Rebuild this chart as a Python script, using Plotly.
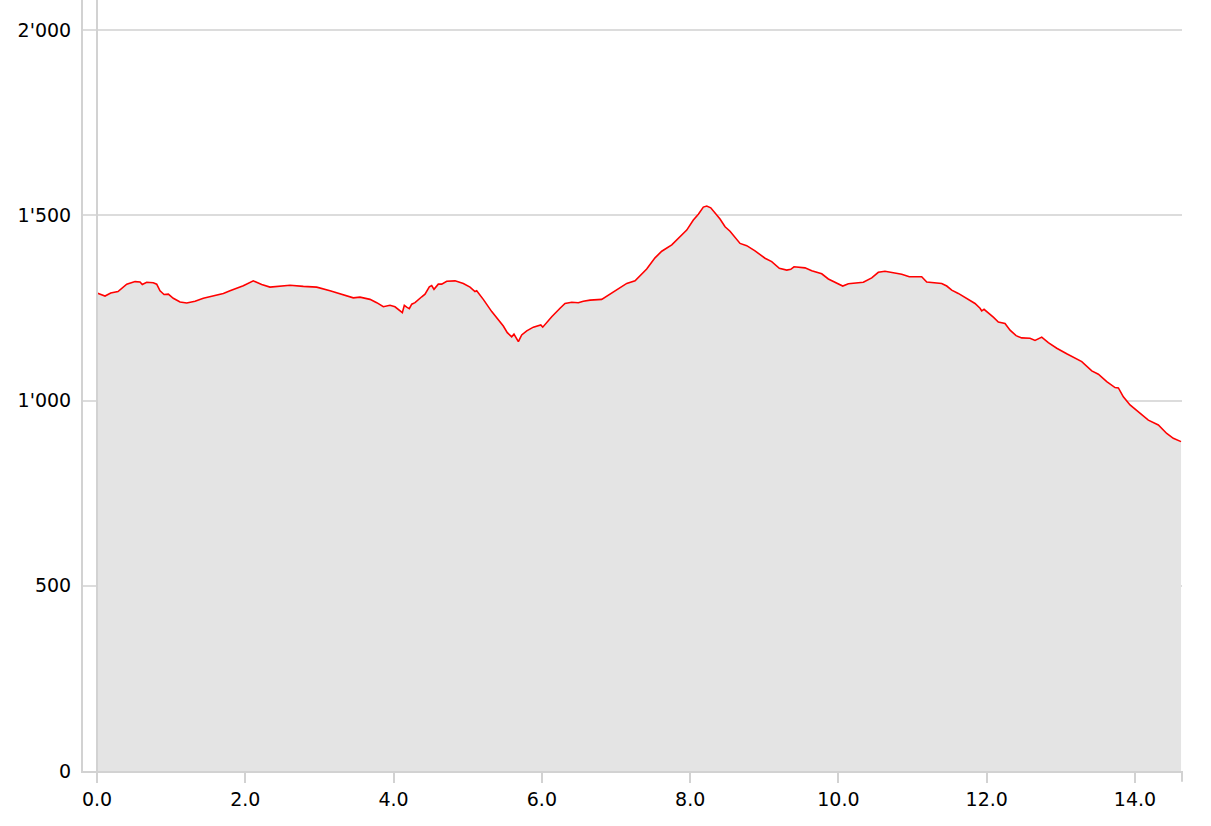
import plotly.graph_objects as go

# elevation profile: distance (km) vs elevation (m)
dist_km = [0.0, 0.108, 0.185, 0.283, 0.401, 0.513, 0.58, 0.611, 0.67, 0.759, 0.805, 0.85,
           0.904, 0.962, 1.029, 1.12, 1.21, 1.322, 1.434, 1.569, 1.704, 1.794, 1.973, 2.108,
           2.221, 2.333, 2.603, 2.783, 2.963, 3.143, 3.322, 3.457, 3.547, 3.638, 3.682, 3.773,
           3.862, 3.952, 4.019, 4.118, 4.145, 4.177, 4.212, 4.245, 4.289, 4.38, 4.424, 4.482,
           4.514, 4.545, 4.603, 4.649, 4.717, 4.829, 4.941, 5.031, 5.098, 5.121, 5.21, 5.324,
           5.413, 5.48, 5.534, 5.593, 5.624, 5.647, 5.683, 5.728, 5.796, 5.885, 5.952, 5.985,
           6.012, 6.043, 6.133, 6.245, 6.312, 6.403, 6.492, 6.559, 6.65, 6.807, 6.919, 7.054,
           7.145, 7.257, 7.324, 7.414, 7.526, 7.617, 7.752, 7.864, 7.954, 8.043, 8.111, 8.178,
           8.224, 8.278, 8.336, 8.403, 8.471, 8.538, 8.673, 8.763, 8.875, 9.01, 9.1, 9.203,
           9.303, 9.357, 9.401, 9.549, 9.64, 9.775, 9.864, 9.954, 10.058, 10.134, 10.247,
           10.336, 10.449, 10.538, 10.628, 10.741, 10.854, 10.956, 11.123, 11.191, 11.326,
           11.393, 11.461, 11.528, 11.617, 11.73, 11.842, 11.91, 11.933, 11.964, 12.045,
           12.089, 12.157, 12.247, 12.315, 12.396, 12.472, 12.584, 12.652, 12.742, 12.831,
           12.945, 13.079, 13.214, 13.282, 13.417, 13.506, 13.619, 13.731, 13.776, 13.843,
           13.933, 14.068, 14.18, 14.315, 14.428, 14.517, 14.621]
elev_m = [1290, 1282, 1290, 1294, 1314, 1321, 1320, 1313, 1319, 1318, 1314, 1296,
          1286, 1287, 1276, 1266, 1263, 1268, 1276, 1282, 1289, 1296, 1310, 1323,
          1313, 1306, 1311, 1308, 1306, 1296, 1286, 1277, 1279, 1276, 1273, 1264,
          1253, 1257, 1253, 1237, 1257, 1252, 1248, 1260, 1264, 1280, 1287, 1307,
          1310, 1300, 1314, 1314, 1322, 1323, 1316, 1306, 1294, 1296, 1273, 1240,
          1217, 1201, 1183, 1172, 1179, 1172, 1159, 1177, 1188, 1198, 1202, 1204,
          1198, 1206, 1226, 1249, 1262, 1265, 1264, 1268, 1271, 1273, 1287, 1306,
          1316, 1323, 1336, 1355, 1385, 1403, 1420, 1442, 1460, 1487, 1503, 1522,
          1525, 1520, 1505, 1490, 1469, 1457, 1424, 1418, 1404, 1384, 1375, 1357,
          1352, 1354, 1361, 1358, 1350, 1342, 1328, 1319, 1309, 1315, 1317,
          1319, 1331, 1346, 1349, 1345, 1341, 1334, 1334, 1320, 1318,
          1316, 1309, 1298, 1289, 1276, 1262, 1249, 1242, 1246, 1233,
          1225, 1212, 1208, 1190, 1175, 1169, 1168, 1162, 1171, 1156,
          1141, 1126, 1113, 1105, 1080, 1071, 1051, 1035, 1034, 1010,
          988, 965, 947, 934, 911, 898, 889]

axis_grey = "#d2d2d2"

fig = go.Figure()
fig.add_trace(go.Scatter(
    x=dist_km, y=elev_m,
    mode="lines",
    line={"color": "red", "width": 1.6},
    fill="tozeroy",
    fillcolor="#e4e4e4",
    showlegend=False,
    hoverinfo="skip"
))

# vertical line at km 0 and closing tick at the end of the axis
fig.add_shape(type="line", xref="x", yref="paper", x0=0, x1=0, y0=0, y1=1,
              line={"color": axis_grey, "width": 2}, layer="above")
fig.add_shape(type="line", xref="paper", yref="paper", x0=1, x1=1, y0=0, y1=-0.014,
              line={"color": axis_grey, "width": 2}, layer="above")

fig.update_layout(
    width=1211, height=826,
    margin=dict(l=83, r=29, t=0, b=55),
    paper_bgcolor="white",
    plot_bgcolor="white",
    separators=".'",
    font=dict(family="DejaVu Sans", size=19, color="black"),
    xaxis=dict(
        range=[-0.189, 14.634],
        tickmode="linear", tick0=0, dtick=2,
        tickformat=".1f",
        showgrid=False, zeroline=False,
        showline=True, linecolor=axis_grey, linewidth=2,
        ticks="outside", ticklen=10, tickwidth=2, tickcolor=axis_grey,
    ),
    yaxis=dict(
        range=[0, 2081],
        tickmode="linear", tick0=0, dtick=500,
        tickformat=",d",
        showgrid=True, gridcolor="#dcdcdc", gridwidth=2,
        zeroline=False,
        showline=True, linecolor=axis_grey, linewidth=2,
        ticks="", ticklabelstandoff=6,
    ),
)

# drop the page's default body margin so the figure sits at the window corner
fig.write_html("out.html", config={"displayModeBar": False},
               post_script="document.body.style.margin='0';")
